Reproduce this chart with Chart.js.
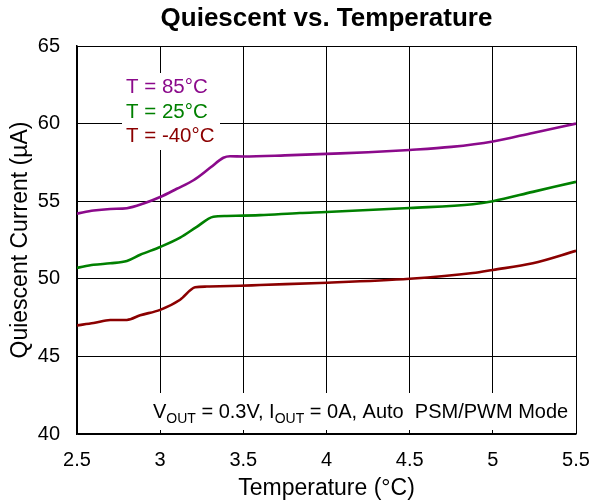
<!DOCTYPE html>
<html>
<head>
<meta charset="utf-8">
<script src="https://cdn.jsdelivr.net/npm/chart.js@4/dist/chart.umd.min.js"></script>
<style>
  body { margin: 0; background: #fff; }
  #wrap { width: 592px; height: 503px; }
</style>
</head>
<body>
<div id="wrap"><canvas id="chart" width="592" height="503"></canvas></div>
<script>
// curve samples, one x array per temperature
const x85 = [2.5, 2.6, 2.7, 2.8, 2.9, 3.0, 3.1, 3.2, 3.3, 3.38, 3.42, 3.5, 3.75, 4.0, 4.25, 4.5, 4.75, 5.0, 5.24, 5.5];
const iq85 = [54.2, 54.4, 54.5, 54.55, 54.85, 55.27, 55.8, 56.35, 57.15, 57.8, 57.9, 57.88, 57.95, 58.05, 58.15, 58.3, 58.5, 58.85, 59.4, 60.0];

const x25 = [2.5, 2.6, 2.7, 2.8, 2.88, 3.0, 3.12, 3.22, 3.32, 3.4, 3.6, 3.84, 4.0, 4.5, 4.88, 5.0, 5.24, 5.5];
const iq25 = [50.7, 50.9, 51.0, 51.15, 51.55, 52.05, 52.65, 53.35, 54.0, 54.05, 54.1, 54.24, 54.3, 54.56, 54.8, 55.0, 55.6, 56.25];

const xm40 = [2.5, 2.6, 2.7, 2.8, 2.88, 3.0, 3.12, 3.21, 3.28, 3.48, 3.6, 3.96, 4.5, 4.88, 5.0, 5.24, 5.5];
const iqm40 = [47.0, 47.15, 47.35, 47.35, 47.65, 48.0, 48.65, 49.45, 49.5, 49.55, 49.6, 49.73, 50.0, 50.37, 50.57, 51.0, 51.8];

const seriesNames = ['T = 85°C', 'T = 25°C', 'T = -40°C'];
const seriesColors = ['#8b0a8b', '#008000', '#8b0000'];

const xTickLabels = ['2.5', '3', '3.5', '4', '4.5', '5', '5.5'];
const yTickLabels = ['40', '45', '50', '55', '60', '65'];

const chartTitle = 'Quiescent vs. Temperature';
const FONT = "'Liberation Sans', Arial, sans-serif";

function pts(xs, ys) {
    return xs.map((x, i) => ({ x: x, y: ys[i] }));
}

// title over the plot, plus white boxes with the series key and the test condition
const notesPlugin = {
    id: 'notes',
    beforeDatasetsDraw(chart) {
        const ctx = chart.ctx;
        const area = chart.chartArea;
        ctx.save();

        ctx.fillStyle = '#000';
        ctx.font = 'bold 26px ' + FONT;
        ctx.textAlign = 'center';
        ctx.textBaseline = 'middle';
        ctx.fillText(chartTitle, (area.left + area.right) / 2, 19);

        ctx.fillStyle = '#fff';
        ctx.fillRect(122, 73, 98, 77);
        ctx.fillRect(148, 393, 426, 37);

        ctx.font = '20.5px ' + FONT;
        ctx.textAlign = 'left';
        const rows = [87, 112, 136];
        seriesNames.forEach((name, i) => {
            ctx.fillStyle = seriesColors[i];
            ctx.fillText(name, 126, rows[i]);
        });

        // V_OUT = 0.3V, I_OUT = 0A, Auto PSM/PWM Mode
        const parts = [['V', false], ['OUT', true], [' = 0.3V, I', false], ['OUT', true], [' = 0A, Auto  PSM/PWM Mode', false]];
        let x = 153;
        const base = 418;
        ctx.fillStyle = '#000';
        ctx.textBaseline = 'alphabetic';
        parts.forEach(([t, sub]) => {
            ctx.font = (sub ? '14px ' : '20px ') + FONT;
            ctx.fillText(t, x, sub ? base + 5 : base);
            x += ctx.measureText(t).width;
        });
        ctx.restore();
    }
};

new Chart(document.getElementById('chart'), {
    type: 'line',
    data: {
        datasets: [
            { label: seriesNames[0], data: pts(x85, iq85), borderColor: seriesColors[0] },
            { label: seriesNames[1], data: pts(x25, iq25), borderColor: seriesColors[1] },
            { label: seriesNames[2], data: pts(xm40, iqm40), borderColor: seriesColors[2] }
        ]
    },
    options: {
        responsive: false,
        animation: false,
        layout: { padding: { left: 0, right: 16, top: 46, bottom: 0 } },
        elements: {
            line: { borderWidth: 2.6, cubicInterpolationMode: 'monotone', fill: false },
            point: { radius: 0 }
        },
        plugins: {
            legend: { display: false },
            tooltip: { enabled: false },
            title: { display: false }
        },
        scales: {
            x: {
                type: 'linear',
                min: 2.5,
                max: 5.5,
                afterFit: s => { s.height = 69; s.paddingLeft = 0; s.paddingRight = 0; },
                afterBuildTicks: s => { s.ticks = xTickLabels.map(v => ({ value: parseFloat(v) })); },
                ticks: {
                    color: '#000',
                    padding: 14,
                    maxRotation: 0,
                    font: { family: FONT, size: 20 },
                    callback: (v, i) => xTickLabels[i]
                },
                grid: { color: '#000', lineWidth: 1, drawTicks: false },
                border: { color: '#000', width: 1.5 },
                title: {
                    display: true,
                    text: 'Temperature (°C)',
                    color: '#000',
                    font: { family: FONT, size: 23, lineHeight: 1.2 },
                    padding: { top: 0, bottom: 1 }
                }
            },
            y: {
                min: 40,
                max: 65,
                afterFit: s => { s.width = 77; s.paddingTop = 0; s.paddingBottom = 0; },
                afterBuildTicks: s => { s.ticks = yTickLabels.map(v => ({ value: parseFloat(v) })); },
                ticks: {
                    color: '#000',
                    padding: 17,
                    font: { family: FONT, size: 20 },
                    callback: (v, i) => yTickLabels[i]
                },
                grid: { color: '#000', lineWidth: 1, drawTicks: false },
                border: { color: '#000', width: 1.5 },
                title: {
                    display: true,
                    text: 'Quiescent Current (µA)',
                    color: '#000',
                    font: { family: FONT, size: 23, lineHeight: 1.2 },
                    padding: { top: 7, bottom: 0 }
                }
            }
        }
    },
    plugins: [notesPlugin]
});
</script>
</body>
</html>
